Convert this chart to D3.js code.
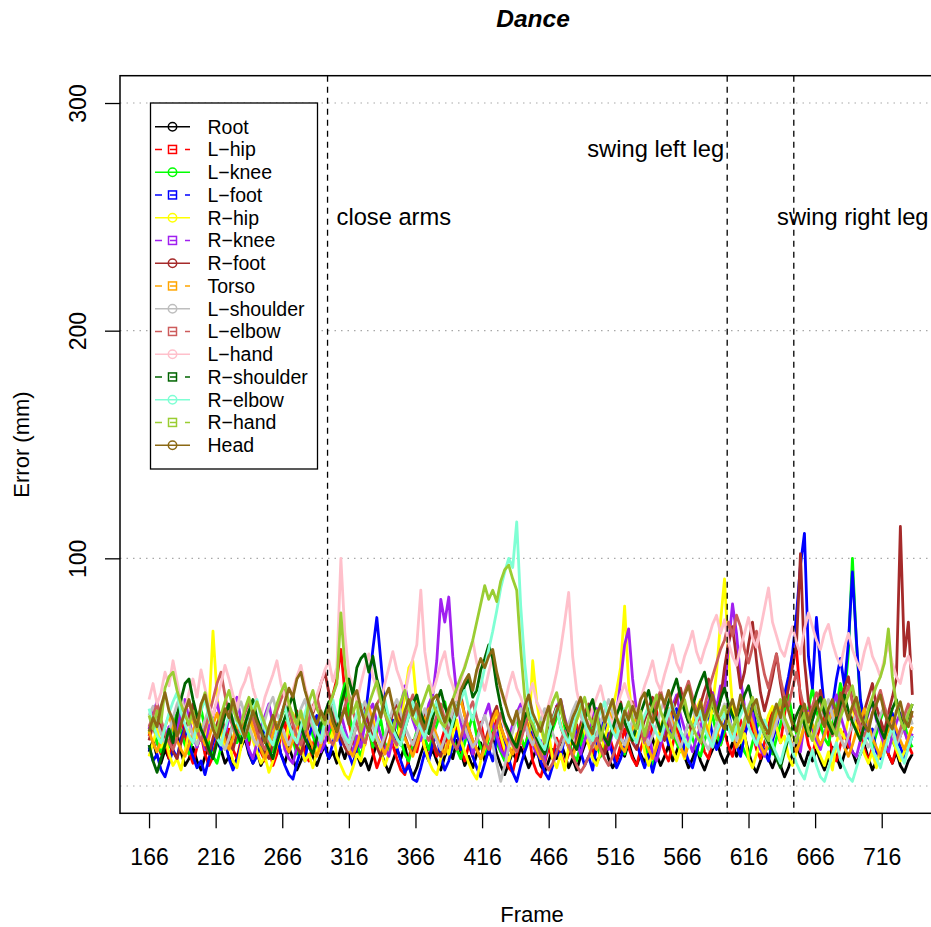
<!DOCTYPE html>
<html>
<head>
<meta charset="utf-8">
<script src="https://cdn.jsdelivr.net/npm/d3@7"></script>
<style>
  body { margin: 0; background: #fff; }
  svg { display: block; font-family: "Liberation Sans", Arial, Helvetica, sans-serif; }
</style>
</head>
<body>
<div id="chart"></div>
<script>
// ---- DATA (error in mm, read every 3 frames from frame 166) ----
const frameStart = 166;
const frameStep = 3;

const joints = ['Root', 'L−hip', 'L−knee', 'L−foot', 'R−hip', 'R−knee', 'R−foot', 'Torso',
  'L−shoulder', 'L−elbow', 'L−hand', 'R−shoulder', 'R−elbow', 'R−hand', 'Head'];
const jointColors = ['#000000', '#FF0000', '#00FF00', '#0000FF', '#FFFF00', '#A020F0', '#A52A2A', '#FFA500',
  '#BEBEBE', '#CD5C5C', '#FFC0CB', '#006400', '#7FFFD4', '#9ACD32', '#8B6914'];
const jointSymbols = ['circle', 'square', 'circle', 'square', 'circle', 'square', 'circle', 'square',
  'circle', 'square', 'circle', 'square', 'circle', 'square', 'circle'];

const root = [
  15,20,13,10,16,12,19,23,15,9,12,17,11,7,13,18,14,20,16,10,13,8,12,17,
  21,14,10,15,9,13,19,16,22,14,10,17,12,7,11,16,20,13,9,14,18,12,15,10,
  17,12,18,22,14,9,12,7,13,19,15,10,6,11,16,12,18,9,4,8,14,19,12,16,
  11,7,13,17,12,20,15,9,13,8,14,19,11,16,21,14,9,5,10,15,11,17,13,8,
  12,17,9,6,11,16,12,19,14,8,12,7,13,18,22,15,10,14,19,12,8,11,16,13,
  19,13,9,14,10,16,21,14,9,13,18,11,15,20,13,8,12,17,11,7,12,16,20,14,
  10,14,19,13,17,22,15,9,6,11,16,12,8,13,9,4,8,14,19,13,9,15,11,16,
  11,7,12,17,13,8,14,19,15,10,14,18,12,7,11,16,21,14,10,15,9,6,11,14];
const lHip = [
  22,28,19,14,21,12,18,26,31,22,15,10,17,23,14,9,13,21,27,19,25,16,12,20,
  26,18,31,24,15,11,17,9,14,22,28,19,26,33,21,15,11,18,24,16,29,35,40,47,
  60,41,28,20,14,23,18,26,15,8,13,21,27,18,12,7,5,12,20,15,23,17,12,19,
  13,19,25,17,31,24,16,11,18,13,21,28,19,14,22,30,20,12,8,6,14,21,16,24,
  11,6,4,10,17,12,21,15,9,14,22,27,18,31,22,14,19,25,16,23,17,11,18,25,
  17,12,9,16,22,14,28,33,21,15,11,18,26,20,13,19,27,31,22,15,12,20,25,18,
  24,17,13,22,29,21,33,24,16,12,19,26,34,25,19,31,45,58,60,38,27,18,14,21,
  26,31,22,15,11,18,24,17,29,33,23,16,11,17,24,29,20,14,10,17,22,27,18,14];
const lKnee = [
  23,29,19,15,22,17,27,32,24,18,14,21,29,34,25,19,13,10,17,24,20,28,19,23,
  28,20,33,26,17,12,19,15,23,30,35,26,20,14,18,26,31,22,17,24,30,21,28,22,
  38,45,32,24,18,13,20,25,17,24,29,19,15,23,28,20,14,11,18,24,29,21,16,22,
  27,33,37,28,21,16,12,19,25,31,22,17,14,21,27,19,15,11,18,25,30,22,17,23,
  29,21,15,12,19,25,30,35,26,20,14,11,18,24,29,22,18,13,21,27,32,24,18,14,
  21,27,32,23,18,13,9,16,22,28,33,25,19,15,22,28,21,16,13,20,26,31,23,18,
  24,29,35,26,20,15,12,19,25,30,22,17,14,21,27,34,40,30,23,19,27,34,43,33,
  27,21,18,27,35,45,38,59,100,63,37,28,22,17,23,29,34,26,20,16,23,28,20,17];
const lFoot = [
  17,11,14,7,4,10,16,12,21,26,18,13,8,11,5,12,19,24,16,20,12,7,11,18,
  23,15,10,13,19,26,21,29,22,14,9,5,3,10,16,11,22,27,31,23,17,12,19,25,
  18,24,14,9,17,22,29,44,60,74,55,36,24,29,17,11,6,9,3,2,8,15,11,19,
  22,13,7,11,18,24,16,28,20,13,8,4,10,16,11,21,27,18,12,6,2,9,15,20,
  24,15,11,6,3,9,16,12,22,27,31,21,15,9,13,7,18,25,29,20,14,8,12,18,
  24,28,19,13,8,14,6,13,20,26,18,30,34,24,16,11,8,15,21,27,32,22,16,20,
  27,33,23,18,13,22,28,36,25,19,15,11,20,26,34,40,48,58,75,97,111,57,43,74,
  52,34,26,35,47,56,44,63,94,64,38,28,21,25,15,12,20,26,32,22,17,12,17,22];
const rHip = [
  13,19,25,17,22,14,9,12,7,15,24,30,21,27,18,33,68,40,24,16,20,11,8,17,
  24,29,20,15,10,13,6,11,18,23,16,28,32,22,17,11,14,8,15,21,27,19,24,13,
  9,5,3,8,14,11,19,25,30,21,15,9,14,21,17,29,40,52,55,36,24,17,11,7,
  5,12,18,14,23,29,20,15,10,6,3,11,17,23,28,32,22,16,11,17,23,19,28,22,
  55,37,26,18,23,12,8,14,7,17,24,29,33,24,18,12,9,15,21,27,34,42,52,79,
  45,29,21,26,15,9,14,20,26,31,22,16,11,17,12,22,28,34,38,29,24,35,50,72,
  91,57,35,26,19,23,12,8,14,19,25,31,35,26,19,22,13,9,15,21,27,31,22,17,
  13,9,15,7,19,25,21,30,35,26,20,14,10,15,8,17,24,30,21,16,11,15,22,26];
const rKnee = [
  25,32,37,27,21,26,18,24,33,38,29,22,17,23,16,26,31,37,28,22,30,35,39,29,
  22,16,12,19,26,31,36,27,21,25,16,12,10,17,24,29,34,26,20,15,19,25,31,24,
  32,25,19,15,22,17,27,33,36,28,22,17,13,21,29,35,44,36,29,24,20,28,36,40,
  55,82,72,83,57,40,28,21,25,14,20,26,31,36,27,22,16,13,21,27,32,36,27,22,
  18,14,20,11,23,29,35,38,30,24,28,19,14,20,25,31,34,26,20,16,24,32,46,62,
  69,47,33,25,19,24,14,11,18,24,30,35,40,31,25,20,15,21,26,32,37,41,34,44,
  42,62,80,67,47,35,28,32,21,16,13,20,26,32,37,28,22,17,22,15,28,33,25,20,
  16,23,29,35,40,31,25,20,15,13,20,26,32,37,29,23,18,15,22,28,32,24,19,23];
const rFoot = [
  20,27,33,26,20,24,15,12,19,25,30,36,29,23,18,14,21,27,32,24,19,16,23,28,
  22,29,34,26,20,15,12,19,25,31,36,28,22,17,14,21,27,32,37,45,50,41,33,26,
  21,17,14,21,27,32,36,27,21,17,13,20,26,32,37,28,22,17,14,21,27,33,26,20,
  15,13,20,26,32,37,40,31,25,20,16,12,19,25,31,35,26,21,17,14,21,27,32,24,
  20,16,12,19,25,30,35,26,21,17,14,21,27,32,36,27,22,17,14,21,26,32,37,28,
  23,19,16,23,29,34,39,30,24,20,27,33,38,43,34,28,23,30,36,42,47,37,31,38,
  52,63,70,56,43,50,62,72,55,41,33,40,48,58,45,35,43,52,62,102,55,37,29,35,
  42,33,28,24,31,37,43,48,37,30,25,33,39,45,35,29,24,32,39,47,114,57,72,40];
const torso = [
  24,19,15,20,26,31,25,20,16,13,18,24,29,23,18,21,27,32,26,20,16,21,27,23,
  28,33,26,20,16,12,17,23,28,24,19,15,20,26,32,27,21,17,13,18,24,30,25,20,
  26,21,16,13,18,24,30,35,28,22,18,14,19,25,31,26,21,17,13,18,24,29,34,27,
  22,17,14,20,27,33,38,31,25,20,16,12,17,23,29,33,26,21,17,14,19,25,30,24,
  20,16,12,17,23,28,33,27,21,17,13,18,24,30,25,20,16,21,27,33,28,22,18,15,
  20,26,31,25,20,16,12,17,23,29,34,28,22,17,13,18,24,30,35,29,23,18,22,27,
  32,27,22,17,21,27,33,28,22,18,14,19,25,31,36,29,23,18,15,20,26,32,27,22,
  18,22,28,33,26,21,17,13,18,24,29,34,27,21,17,13,19,25,30,25,20,16,21,26];
const lShoulder = [
  31,35,28,23,19,24,30,36,40,33,27,22,18,23,29,34,28,23,19,16,21,27,33,37,
  31,26,21,18,23,29,35,39,32,27,22,18,23,29,34,38,31,26,22,19,24,30,35,29,
  24,20,16,21,27,33,37,31,26,21,17,22,28,34,38,32,26,22,18,23,29,34,28,24,
  20,16,21,27,33,37,31,26,21,17,20,26,31,25,18,10,2,9,17,24,30,34,28,22,
  18,23,29,34,28,23,19,16,21,27,33,37,31,26,21,17,22,28,33,38,32,26,21,18,
  23,29,34,28,22,18,22,27,33,38,32,26,21,17,22,28,34,29,24,19,16,21,27,32,
  36,30,25,20,24,29,35,39,33,27,22,18,22,28,33,27,22,17,21,26,31,25,20,24,
  29,34,38,31,26,21,17,22,27,32,26,21,17,21,26,31,35,29,23,18,22,28,33,27];
const lElbow = [
  26,31,36,29,23,19,16,21,27,33,37,30,24,20,25,31,38,45,50,40,31,26,22,27,
  32,37,30,24,19,16,21,27,33,38,42,34,27,22,18,23,29,35,39,32,26,21,18,23,
  29,35,40,33,27,22,19,24,30,36,39,32,26,21,18,23,29,35,40,33,27,23,20,25,
  31,36,29,24,19,16,21,27,33,37,30,24,19,16,21,27,32,27,22,18,15,20,26,31,
  25,19,14,10,7,10,15,20,24,18,13,9,6,9,13,18,21,16,12,9,13,18,23,28,
  32,37,30,24,20,25,31,37,42,35,29,24,29,35,41,46,39,33,29,35,42,48,54,60,
  64,72,66,75,70,60,54,61,68,58,49,43,51,58,47,39,35,43,50,41,33,29,35,41,
  37,31,26,22,27,33,39,44,37,31,26,22,26,32,37,42,35,29,24,20,25,31,36,30];
const lHand = [
  38,45,36,41,50,44,55,46,37,33,41,47,39,51,43,35,31,38,45,53,47,40,34,42,
  46,52,43,37,31,39,44,49,55,45,39,34,42,48,53,44,37,33,40,45,51,55,46,52,
  100,67,49,44,37,45,52,58,48,43,37,45,52,59,51,46,40,49,56,62,86,59,47,41,
  47,54,59,49,44,38,46,53,58,64,54,48,42,50,57,48,42,36,44,50,43,39,33,40,
  45,37,33,29,36,42,50,60,72,85,57,42,34,31,27,34,39,44,36,31,27,34,40,45,
  39,35,31,38,44,49,55,46,42,49,55,62,54,50,57,62,68,59,54,60,65,71,75,67,
  73,63,57,53,61,67,74,65,61,69,78,87,72,66,60,57,64,70,63,58,69,76,70,64,
  60,67,71,63,57,53,61,67,60,55,51,59,65,57,53,48,56,62,54,48,45,53,57,51];
const rShoulder = [
  18,11,6,12,18,25,19,31,38,45,47,38,31,25,21,16,12,19,25,31,36,28,23,19,
  27,33,38,30,25,20,16,12,19,25,30,35,40,31,26,21,17,14,21,27,32,37,29,24,
  35,42,47,40,52,56,58,50,57,47,41,35,30,26,22,18,25,31,36,40,32,27,23,30,
  37,42,35,30,26,34,39,44,47,39,42,51,56,62,56,44,35,28,24,20,17,24,30,34,
  26,21,17,14,21,27,32,36,28,23,19,16,23,29,34,38,30,25,21,18,25,31,36,28,
  24,20,26,32,37,42,34,29,24,31,37,42,47,39,33,28,35,41,46,50,41,35,31,38,
  43,36,31,27,34,40,44,36,31,27,23,19,16,12,8,15,21,26,31,35,27,22,29,35,
  39,32,27,23,30,36,40,33,28,24,20,27,33,37,30,25,21,28,34,38,30,25,31,36];
const rElbow = [
  34,27,22,19,26,32,37,41,32,27,22,19,27,33,38,30,25,21,18,25,31,36,28,24,
  21,28,34,38,30,25,21,18,25,31,35,27,22,19,26,32,37,29,24,20,28,34,38,30,
  26,22,19,26,32,36,28,24,20,27,33,38,30,25,21,18,25,31,37,29,25,21,29,33,
  37,29,24,21,28,34,38,42,34,29,37,44,52,60,68,77,87,94,100,96,116,79,54,37,
  28,23,19,16,23,29,34,26,22,19,26,32,36,28,23,20,28,33,37,29,24,21,29,34,
  27,22,19,26,31,35,27,23,20,27,32,36,28,24,20,17,24,29,33,25,21,17,24,28,
  32,25,20,26,31,35,26,22,18,24,29,23,18,14,10,17,22,15,10,6,3,10,16,9,
  4,2,8,14,19,12,8,4,2,8,14,19,24,16,12,8,15,21,26,18,14,10,17,22];
const rHand = [
  31,25,33,28,43,48,50,42,36,31,27,33,24,35,41,33,28,24,31,37,42,34,29,27,
  34,39,31,37,32,27,23,30,36,41,45,36,31,27,33,25,37,42,34,30,27,35,40,45,
  76,53,39,32,37,24,30,36,41,46,37,32,28,24,32,37,42,34,30,27,34,39,44,36,
  32,28,26,31,38,43,48,52,58,64,72,80,88,82,86,81,90,95,97,91,86,60,39,30,
  27,22,28,19,31,37,41,33,28,25,21,29,34,39,31,27,33,20,28,33,38,30,26,32,
  37,29,25,33,22,30,35,40,33,28,24,21,29,34,38,30,26,22,19,27,32,37,29,31,
  35,28,24,31,21,29,34,39,31,27,23,20,28,33,38,30,26,22,19,27,32,24,20,28,
  33,38,30,26,22,30,35,40,44,35,30,27,34,39,44,48,54,69,48,36,29,25,32,36];
const head = [
  24,30,26,35,41,33,29,22,27,33,38,31,26,36,40,32,25,21,28,34,30,38,31,26,
  21,27,33,28,24,19,26,31,25,30,37,43,39,47,50,42,36,31,27,33,29,35,28,24,
  29,34,27,39,42,34,28,24,31,36,30,39,43,35,29,26,33,38,31,36,29,25,32,38,
  40,33,28,34,38,31,42,46,49,42,51,56,52,57,60,50,43,37,31,27,33,25,35,40,
  32,28,24,30,35,27,33,38,29,24,30,34,39,31,26,23,31,36,28,33,38,30,25,33,
  29,35,30,38,41,33,28,34,40,36,42,34,29,35,40,44,36,31,37,29,34,40,32,28,
  25,33,38,31,40,34,28,35,38,30,26,23,31,36,30,39,33,27,24,32,36,28,33,37,
  31,26,34,38,31,41,35,29,35,39,31,27,24,32,36,40,32,28,25,33,37,29,26,33];

const seriesValues = [root, lHip, lKnee, lFoot, rHip, rKnee, rFoot, torso,
  lShoulder, lElbow, lHand, rShoulder, rElbow, rHand, head];

const xTicks = [166, 216, 266, 316, 366, 416, 466, 516, 566, 616, 666, 716];
const yTicks = [100, 200, 300];
const gridValues = [0, 100, 200, 300];
const events = [
  { frame: 300, label: 'close arms', y: 250, anchor: 'start', dx: 9 },
  { frame: 600, label: 'swing left leg', y: 280, anchor: 'end', dx: -3 },
  { frame: 650, label: 'swing right leg', y: 250, anchor: 'middle', dx: 59 },
];

// ---- LAYOUT ----
const W = 931, H = 927;
const plot = { left: 120, right: 943, top: 75.7, bottom: 813.3 };

const x = d3.scaleLinear().domain([144.2, 762]).range([plot.left, plot.right]);
const y = d3.scaleLinear().domain([-12, 312]).range([plot.bottom, plot.top]);

const svg = d3.select('#chart').append('svg')
  .attr('width', W).attr('height', H);

svg.append('defs').append('clipPath').attr('id', 'plotClip')
  .append('rect')
  .attr('x', plot.left).attr('y', plot.top)
  .attr('width', plot.right - plot.left).attr('height', plot.bottom - plot.top);

// grid
svg.append('g').selectAll('line').data(gridValues).join('line')
  .attr('x1', plot.left).attr('x2', plot.right)
  .attr('y1', d => y(d)).attr('y2', d => y(d))
  .attr('stroke', '#a8a8a8').attr('stroke-width', 1.2)
  .attr('stroke-dasharray', '1.5,5');

// series
const line = d3.line()
  .x((d, i) => x(frameStart + i * frameStep))
  .y(d => y(d));

svg.append('g').attr('clip-path', 'url(#plotClip)')
  .selectAll('path').data(seriesValues).join('path')
  .attr('d', d => line(d))
  .attr('fill', 'none')
  .attr('stroke', (d, i) => jointColors[i])
  .attr('stroke-width', 2.8)
  .attr('stroke-linejoin', 'round');

// event lines
svg.append('g').selectAll('line').data(events).join('line')
  .attr('x1', d => x(d.frame)).attr('x2', d => x(d.frame))
  .attr('y1', plot.top).attr('y2', plot.bottom)
  .attr('stroke', '#000').attr('stroke-width', 1.3)
  .attr('stroke-dasharray', '6,5');

svg.append('g').selectAll('text').data(events).join('text')
  .attr('x', d => x(d.frame) + d.dx)
  .attr('y', d => y(d.y))
  .attr('dy', '0.36em')
  .attr('text-anchor', d => d.anchor)
  .attr('font-size', 23.7)
  .text(d => d.label);

// box
svg.append('rect')
  .attr('x', plot.left).attr('y', plot.top)
  .attr('width', plot.right - plot.left).attr('height', plot.bottom - plot.top)
  .attr('fill', 'none').attr('stroke', '#000').attr('stroke-width', 1.5);

// axes
const xAxis = svg.append('g')
  .attr('transform', `translate(0,${plot.bottom})`)
  .call(d3.axisBottom(x).tickValues(xTicks).tickSize(15).tickSizeOuter(0).tickFormat(d3.format('d')));
xAxis.select('.domain').remove();
xAxis.selectAll('line').attr('stroke', '#000').attr('stroke-width', 1.3);
xAxis.selectAll('text').attr('y', 52).attr('dy', 0)
  .attr('font-size', 23).attr('fill', '#000').attr('font-family', null);

const yAxis = svg.append('g')
  .attr('transform', `translate(${plot.left},0)`)
  .call(d3.axisLeft(y).tickValues(yTicks).tickSize(15).tickSizeOuter(0));
yAxis.select('.domain').remove();
yAxis.selectAll('line').attr('stroke', '#000').attr('stroke-width', 1.3);
yAxis.selectAll('text')
  .attr('x', 0).attr('dy', 0)
  .attr('transform', 'translate(-34,0) rotate(-90)')
  .attr('text-anchor', 'middle')
  .attr('font-size', 23).attr('fill', '#000').attr('font-family', null);

// titles
svg.append('text')
  .attr('x', 533).attr('y', 26.5)
  .attr('text-anchor', 'middle')
  .attr('font-size', 24.5).attr('font-weight', 'bold').attr('font-style', 'italic')
  .text('Dance');

svg.append('text')
  .attr('x', 532).attr('y', 922)
  .attr('text-anchor', 'middle').attr('font-size', 22)
  .text('Frame');

svg.append('text')
  .attr('transform', 'translate(29,444.5) rotate(-90)')
  .attr('text-anchor', 'middle').attr('font-size', 22)
  .text('Error (mm)');

// legend
const legend = svg.append('g');
legend.append('rect')
  .attr('x', 150.5).attr('y', 103).attr('width', 167).attr('height', 366)
  .attr('fill', '#fff').attr('stroke', '#000').attr('stroke-width', 1.3);

const rowY = i => 126.7 + i * 22.75;
const rows = legend.selectAll('g.row').data(joints).join('g')
  .attr('class', 'row')
  .attr('transform', (d, i) => `translate(0,${rowY(i)})`);

rows.append('line')
  .attr('x1', 155).attr('x2', 190).attr('y1', 0).attr('y2', 0)
  .attr('stroke', (d, i) => jointColors[i]).attr('stroke-width', 1.5)
  .attr('stroke-dasharray', (d, i) => jointSymbols[i] === 'square' ? '7,8' : null);

rows.filter((d, i) => jointSymbols[i] === 'circle').append('circle')
  .attr('cx', 172.5).attr('cy', 0).attr('r', 4.2)
  .attr('fill', 'none').attr('stroke-width', 1.5)
  .attr('stroke', d => jointColors[joints.indexOf(d)]);

rows.filter((d, i) => jointSymbols[i] === 'square').append('rect')
  .attr('x', 168.5).attr('y', -4).attr('width', 8).attr('height', 8)
  .attr('fill', 'none').attr('stroke-width', 1.5)
  .attr('stroke', d => jointColors[joints.indexOf(d)]);

rows.append('text')
  .attr('x', 207.5).attr('y', 0).attr('dy', '0.36em')
  .attr('font-size', 19.5)
  .text(d => d);
</script>
</body>
</html>
